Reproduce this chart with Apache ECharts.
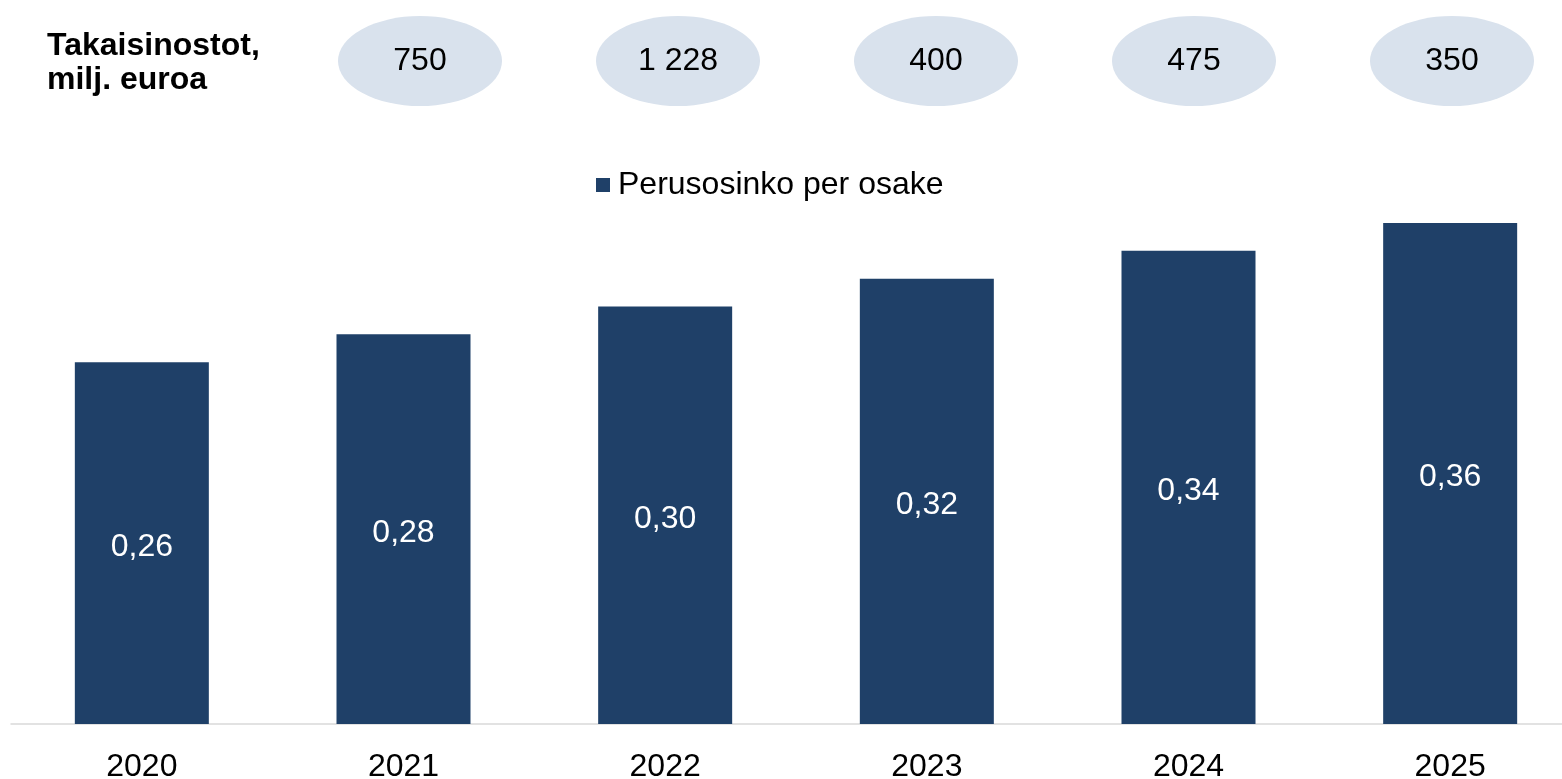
<!DOCTYPE html>
<html>
<head>
<meta charset="utf-8">
<script src="https://cdn.jsdelivr.net/npm/echarts@6/dist/echarts.min.js"></script>
<style>
  html, body { margin: 0; padding: 0; background: #fff; }
  #chart { width: 1562px; height: 779px; }
</style>
</head>
<body>
<div id="chart"></div>
<script>
// data
var years = ['2020', '2021', '2022', '2023', '2024', '2025'];
var dividend = [0.26, 0.28, 0.30, 0.32, 0.34, 0.36];
var buybackYears = ['2021', '2022', '2023', '2024', '2025'];
var buybacks = [750, 1228, 400, 475, 350];

var font = '"Liberation Sans", Arial, sans-serif';
var barColor = '#1f4068';

function fmtThousands(v) {
    return String(v).replace(/\B(?=(\d{3})+(?!\d))/g, ' ');
}

var chart = echarts.init(document.getElementById('chart'));

var option = {
    backgroundColor: '#fff',
    animation: false,
    textStyle: { fontFamily: font },
    title: {
        text: 'Takaisinostot,\nmilj. euroa',
        left: 47,
        top: 29,
        padding: 0,
        textStyle: {
            fontFamily: font,
            fontSize: 32,
            fontWeight: 'bold',
            color: '#000',
            lineHeight: 34
        }
    },
    legend: {
        data: ['Perusosinko per osake'],
        left: 596,
        top: 169,
        padding: 0,
        itemWidth: 14,
        itemHeight: 14,
        icon: 'rect',
        textStyle: {
            fontFamily: font,
            fontSize: 32,
            color: '#000',
            padding: [0, 0, 0, 3]
        }
    },
    grid: [
        { left: 11, width: 1570, top: 223, bottom: 55, outerBoundsMode: 'none' },
        { left: 291, width: 1290, top: 16, height: 90, outerBoundsMode: 'none' }
    ],
    xAxis: [
        {
            type: 'category',
            gridIndex: 0,
            data: years,
            axisLine: { show: true, lineStyle: { color: '#d9d9d9', width: 1.5 } },
            axisTick: { show: false },
            axisLabel: {
                fontFamily: font,
                fontSize: 32,
                color: '#000',
                margin: 27
            }
        },
        {
            type: 'category',
            gridIndex: 1,
            data: buybackYears,
            show: false
        }
    ],
    yAxis: [
        {
            type: 'value',
            gridIndex: 0,
            min: 0,
            max: 0.36,
            show: false,
            splitLine: { show: false }
        },
        {
            type: 'value',
            gridIndex: 1,
            min: -1,
            max: 1,
            show: false
        }
    ],
    series: [
        {
            name: 'Perusosinko per osake',
            type: 'bar',
            xAxisIndex: 0,
            yAxisIndex: 0,
            data: dividend,
            barWidth: 134,
            itemStyle: { color: barColor },
            label: {
                show: true,
                position: 'inside',
                offset: [0, 4],
                fontFamily: font,
                fontSize: 32,
                color: '#fff',
                formatter: function (p) {
                    return p.value.toFixed(2).replace('.', ',');
                }
            }
        },
        {
            name: 'Takaisinostot',
            type: 'scatter',
            xAxisIndex: 1,
            yAxisIndex: 1,
            symbol: 'circle',
            symbolSize: [164, 90],
            data: buybackYears.map(function (y) { return [y, 0]; }),
            itemStyle: { color: '#d9e2ed', opacity: 1 },
            label: {
                show: true,
                position: 'inside',
                fontFamily: font,
                fontSize: 32,
                color: '#000',
                formatter: function (p) {
                    return fmtThousands(buybacks[p.dataIndex]);
                }
            },
            emphasis: { disabled: true }
        }
    ]
};

chart.setOption(option);
</script>
</body>
</html>
